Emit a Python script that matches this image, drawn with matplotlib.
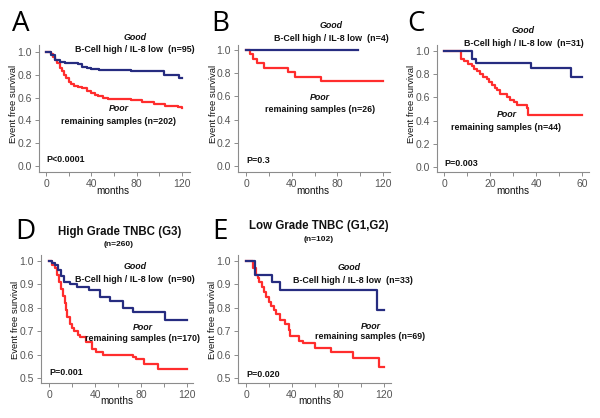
import matplotlib
matplotlib.use("Agg")
import matplotlib.pyplot as plt
import numpy as np

plt.rcParams['font.family'] = ['Liberation Sans', 'DejaVu Sans']

BLUE = '#262c80'
RED = '#ff2d2d'
GRAY = '#8c8c8c'
TXT = '#111111'

# ---------------- data ----------------
a_blue_t = [0, 4, 8, 12, 17, 22, 28, 32, 36, 40, 47, 75, 104, 117, 120]
a_blue_s = [1.0, 0.97, 0.93, 0.91, 0.905, 0.90, 0.89, 0.87, 0.86, 0.85, 0.84, 0.83, 0.80, 0.77, 0.77]
a_red_t = [0, 4, 6, 8, 10, 12, 14, 16, 18, 20, 22, 25, 28, 32, 36, 40, 43, 46, 50, 55, 75, 85, 95, 105, 116, 120]
a_red_s = [1.0, 0.98, 0.96, 0.93, 0.90, 0.86, 0.83, 0.80, 0.77, 0.74, 0.72, 0.70, 0.69, 0.68, 0.66, 0.64, 0.62, 0.61, 0.60, 0.59, 0.58, 0.56, 0.54, 0.53, 0.52, 0.51]

b_blue_t = [0, 98]
b_blue_s = [1.0, 1.0]
b_red_t = [0, 3.5, 6, 9.5, 16, 37, 43, 66, 120]
b_red_s = [1.0, 0.962, 0.923, 0.885, 0.846, 0.808, 0.769, 0.731, 0.731]

c_blue_t = [0, 12, 14, 38, 55, 60]
c_blue_s = [1.0, 0.93, 0.897, 0.85, 0.78, 0.78]
c_red_t = [0, 7.3, 8.6, 10.5, 12, 13, 14.4, 15.6, 17, 18.5, 19.7, 21, 22, 23, 24.3, 27.2, 28.7, 30.6, 31.9, 36, 36.7, 60]
c_red_s = [1.0, 0.934, 0.914, 0.89, 0.87, 0.845, 0.825, 0.805, 0.78, 0.76, 0.735, 0.71, 0.68, 0.66, 0.63, 0.60, 0.58, 0.56, 0.537, 0.51, 0.445, 0.445]

d_blue_t = [0, 3, 5, 8, 10.4, 13, 18, 24, 35, 44, 53, 64, 73, 101, 120]
d_blue_s = [1.0, 0.99, 0.983, 0.96, 0.936, 0.91, 0.90, 0.89, 0.876, 0.847, 0.83, 0.80, 0.783, 0.747, 0.747]
d_red_t = [0, 3, 5, 7, 9, 10.5, 12, 13.5, 14.5, 16, 18, 20, 22, 25, 27, 32, 37, 41, 47, 73, 76, 83, 95, 120]
d_red_s = [1.0, 0.985, 0.97, 0.94, 0.91, 0.88, 0.85, 0.82, 0.79, 0.76, 0.73, 0.715, 0.70, 0.685, 0.675, 0.655, 0.625, 0.61, 0.60, 0.59, 0.583, 0.56, 0.54, 0.54]

e_blue_t = [0, 7.9, 23, 30, 114.5, 120]
e_blue_s = [1.0, 0.94, 0.909, 0.876, 0.79, 0.79]
e_red_t = [0, 6.4, 8.5, 10, 11.7, 13.7, 15.8, 17.5, 19.6, 21.6, 24, 26, 30, 34, 37, 38.5, 46, 50, 60, 74, 93, 116, 120]
e_red_s = [1.0, 0.97, 0.94, 0.926, 0.91, 0.89, 0.87, 0.848, 0.826, 0.81, 0.79, 0.776, 0.75, 0.73, 0.705, 0.68, 0.66, 0.648, 0.63, 0.61, 0.587, 0.548, 0.548]

good_labels = ["B-Cell high / IL-8 low  (n=95)", "B-Cell high / IL-8 low  (n=4)",
               "B-Cell high / IL-8 low  (n=31)", "B-Cell high / IL-8 low  (n=90)",
               "B-Cell high / IL-8 low  (n=33)"]
poor_labels = ["remaining samples (n=202)", "remaining samples (n=26)",
               "remaining samples (n=44)", "remaining samples (n=170)",
               "remaining samples (n=69)"]
p_labels = ["P<0.0001", "P=0.3", "P=0.003", "P=0.001", "P=0.020"]
panel_letters = ["A", "B", "C", "D", "E"]

W, H = 600, 418
fig = plt.figure(figsize=(W / 100, H / 100), dpi=100)

def make_ax(l, r, t, b):
    return fig.add_axes([l / W, (H - b) / H, (r - l) / W, (b - t) / H])

def style(ax, xlim, ylim, xticks, xlabels, yticks):
    ax.set_xlim(*xlim)
    ax.set_ylim(*ylim)
    for s in ['top', 'right']:
        ax.spines[s].set_visible(False)
    for s in ['left', 'bottom']:
        ax.spines[s].set_color(GRAY)
        ax.spines[s].set_linewidth(0.8)
    ax.set_xticks(xticks)
    ax.set_xticklabels(xlabels)
    ax.set_yticks(yticks)
    ax.set_yticklabels(["%.1f" % v for v in yticks])
    ax.tick_params(direction='out', length=3, width=0.7, color=GRAY,
                   labelsize=7.5, labelcolor='#555555', pad=2)

def curves(ax, bt, bs, rt, rs):
    ax.step(rt, rs, where='post', color=RED, lw=1.6, clip_on=False)
    ax.step(bt, bs, where='post', color=BLUE, lw=1.6, clip_on=False)

def labels(ax, ylab_x, ylab_y, mx, my):
    ax.text(ylab_x, ylab_y, "Event free survival", transform=ax.transAxes, rotation=90,
            ha='center', va='center', fontsize=6.8, color=TXT)
    ax.text(mx, my, "months", transform=ax.transAxes, ha='center', va='center',
            fontsize=7.2, color=TXT)

def annot(ax, i, gx, gy, bx, by, px, py, rx, ry, ptx, pty):
    fs = 6.4
    ax.text(gx, gy, "Good", fontsize=fs, fontweight='bold', style='italic', ha='center', va='center', color=TXT)
    ax.text(bx, by, good_labels[i], fontsize=fs, fontweight='bold', ha='center', va='center', color=TXT)
    ax.text(px, py, "Poor", fontsize=fs, fontweight='bold', style='italic', ha='center', va='center', color=TXT)
    ax.text(rx, ry, poor_labels[i], fontsize=fs, fontweight='bold', ha='center', va='center', color=TXT)
    ax.text(ptx, pty, p_labels[i], fontsize=fs, fontweight='bold', ha='left', va='center', color=TXT)

t120 = [0, 20, 40, 60, 80, 100, 120]
t120l = ['0', '', '40', '', '80', '', '120']
t60 = [0, 10, 20, 30, 40, 50, 60]
t60l = ['0', '', '20', '', '40', '', '60']
y01 = [0.0, 0.2, 0.4, 0.6, 0.8, 1.0]
y05 = [0.5, 0.6, 0.7, 0.8, 0.9, 1.0]

# A
ax = make_ax(39, 190, 45, 172)
style(ax, (-6.2, 127), (-0.053, 1.061), t120, t120l, y01)
curves(ax, a_blue_t, a_blue_s, a_red_t, a_red_s)
annot(ax, 0, 78.5, 1.13, 78.5, 1.02, 64, 0.50, 64, 0.39, 0.6, 0.053)
labels(ax, -0.172, 0.535, 0.49, -0.147)

# B
ax = make_ax(238, 390, 45, 172)
style(ax, (-7, 126), (-0.052, 1.043), t120, t120l, y01)
curves(ax, b_blue_t, b_blue_s, b_red_t, b_red_s)
annot(ax, 1, 74.4, 1.21, 74.4, 1.10, 65, 0.59, 65, 0.49, 0.6, 0.05)
labels(ax, -0.164, 0.535, 0.49, -0.147)

# C
ax = make_ax(436.7, 589, 45, 172)
style(ax, (-3.2, 63), (-0.043, 1.052), t60, t60l, y01)
curves(ax, c_blue_t, c_blue_s, c_red_t, c_red_s)
annot(ax, 2, 34.5, 1.18, 34.6, 1.065, 27.2, 0.457, 27.1, 0.34, 0.1, 0.026)
labels(ax, -0.164, 0.535, 0.50, -0.147)

# D
ax = make_ax(41, 193, 255, 383)
style(ax, (-7, 125.2), (0.479, 1.026), t120, t120l, y05)
curves(ax, d_blue_t, d_blue_s, d_red_t, d_red_s)
annot(ax, 3, 74.8, 0.976, 75, 0.923, 82, 0.717, 81.3, 0.671, 0.3, 0.524)
labels(ax, -0.171, 0.49, 0.498, -0.14)
fig.text(120 / W, 1 - 232 / H, "High Grade TNBC (G3)", fontsize=8.3, fontweight='bold',
         ha='center', va='center', color=TXT)
fig.text(119 / W, 1 - 244.3 / H, "(n=260)", fontsize=6, fontweight='bold',
         ha='center', va='center', color=TXT)

# E
ax = make_ax(238, 390.7, 255, 383)
style(ax, (-7, 126), (0.479, 1.026), t120, t120l, y05)
curves(ax, e_blue_t, e_blue_s, e_red_t, e_red_s)
annot(ax, 4, 89.6, 0.973, 93.5, 0.918, 108.6, 0.722, 107.7, 0.677, 0.0, 0.517)
labels(ax, -0.164, 0.49, 0.50, -0.14)
fig.text(319 / W, 1 - 225.7 / H, "Low Grade TNBC (G1,G2)", fontsize=8.3, fontweight='bold',
         ha='center', va='center', color=TXT)
fig.text(319 / W, 1 - 239.3 / H, "(n=102)", fontsize=6, fontweight='bold',
         ha='center', va='center', color=TXT)

# panel letters
letter_pos = [(21, 24), (220, 24), (416, 24), (25, 232), (220, 232)]
for lt, (x, y) in zip(panel_letters, letter_pos):
    fig.text(x / W, 1 - y / H, lt, fontsize=20, family='Open Sans', ha='center', va='center', color='black')

fig.savefig("out.png", dpi=100, facecolor='white')
